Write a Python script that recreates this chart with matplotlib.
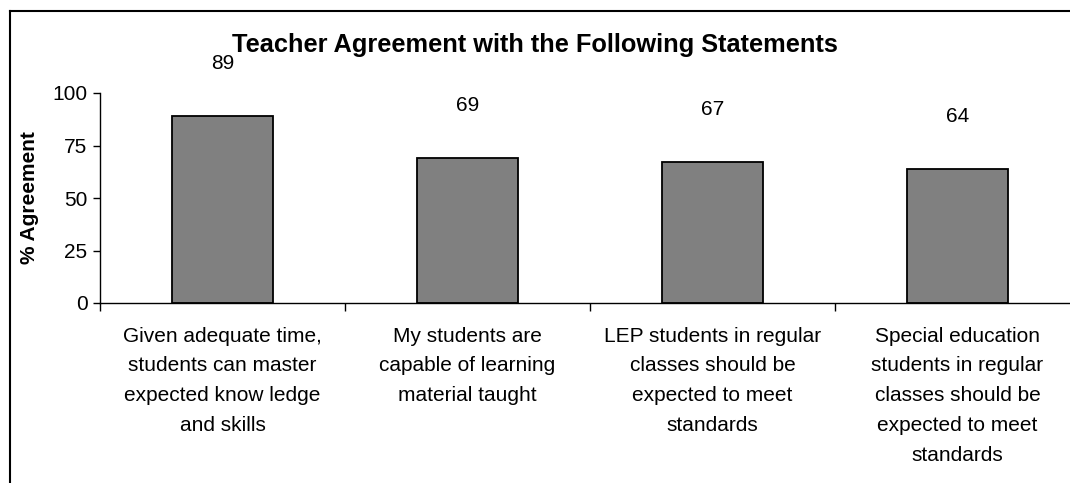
import matplotlib
matplotlib.use("Agg")
import matplotlib.pyplot as plt
from matplotlib.lines import Line2D
import numpy as np

plt.rcParams["font.family"] = ["Liberation Sans", "DejaVu Sans"]

CATEGORIES = [
    "Given adequate time,\nstudents can master\nexpected know ledge\nand skills",
    "My students are\ncapable of learning\nmaterial taught",
    "LEP students in regular\nclasses should be\nexpected to meet\nstandards",
    "Special education\nstudents in regular\nclasses should be\nexpected to meet\nstandards",
]
AGREEMENT = [89, 69, 67, 64]
Y_TICKS = [0, 25, 50, 75, 100]
TITLE = "Teacher Agreement with the Following Statements"
Y_LABEL = "% Agreement"

W, H = 1070, 483
fig = plt.figure(figsize=(W / 100, H / 100), dpi=100)

# axes placed in pixel terms: y=0 at 303px, y=100 at 93px, left spine at 100px
ax = fig.add_axes([100 / W, 1 - 303 / H, 970 / W, 210 / H])
x = np.arange(len(AGREEMENT))
ax.bar(x, AGREEMENT, width=0.41, color="#808080", edgecolor="black", linewidth=1.3)

for xi, v in zip(x, AGREEMENT):
    ax.annotate(str(v), (xi, v), xytext=(0, 31), textcoords="offset points",
                ha="center", va="bottom", fontsize=15)

ax.set_xlim(-0.5, 3.5 - 10 / 245)
ax.set_ylim(0, 100)
ax.set_yticks(Y_TICKS)
ax.tick_params(axis="y", labelsize=15, length=5, width=1, pad=4)
ax.set_xticks(x)
ax.set_xticklabels(CATEGORIES, fontsize=15, linespacing=1.72, va="top")
ax.tick_params(axis="x", which="major", length=0, pad=17)
ax.set_xticks([0.5, 1.5, 2.5, -0.5], minor=True)
ax.tick_params(axis="x", which="minor", length=6, width=1, direction="out")
for s in ["top", "right"]:
    ax.spines[s].set_visible(False)
for s in ["left", "bottom"]:
    ax.spines[s].set_linewidth(1)
ax.set_ylabel(Y_LABEL, fontsize=15, fontweight="bold", labelpad=12)
ax.yaxis.set_label_coords(-61 / 970, 0.5)

fig.text(535 / W, 1 - 45 / H, TITLE, ha="center", va="center", fontsize=18.3, fontweight="bold")

# outer chart border (cropped at right and bottom)
fig.add_artist(Line2D([9.5 / W, 9.5 / W], [0, 1 - 11 / H], transform=fig.transFigure, color="black", lw=1.5))
fig.add_artist(Line2D([9.5 / W, 1], [1 - 11 / H, 1 - 11 / H], transform=fig.transFigure, color="black", lw=1.5))

fig.savefig("out.png", dpi=100)
